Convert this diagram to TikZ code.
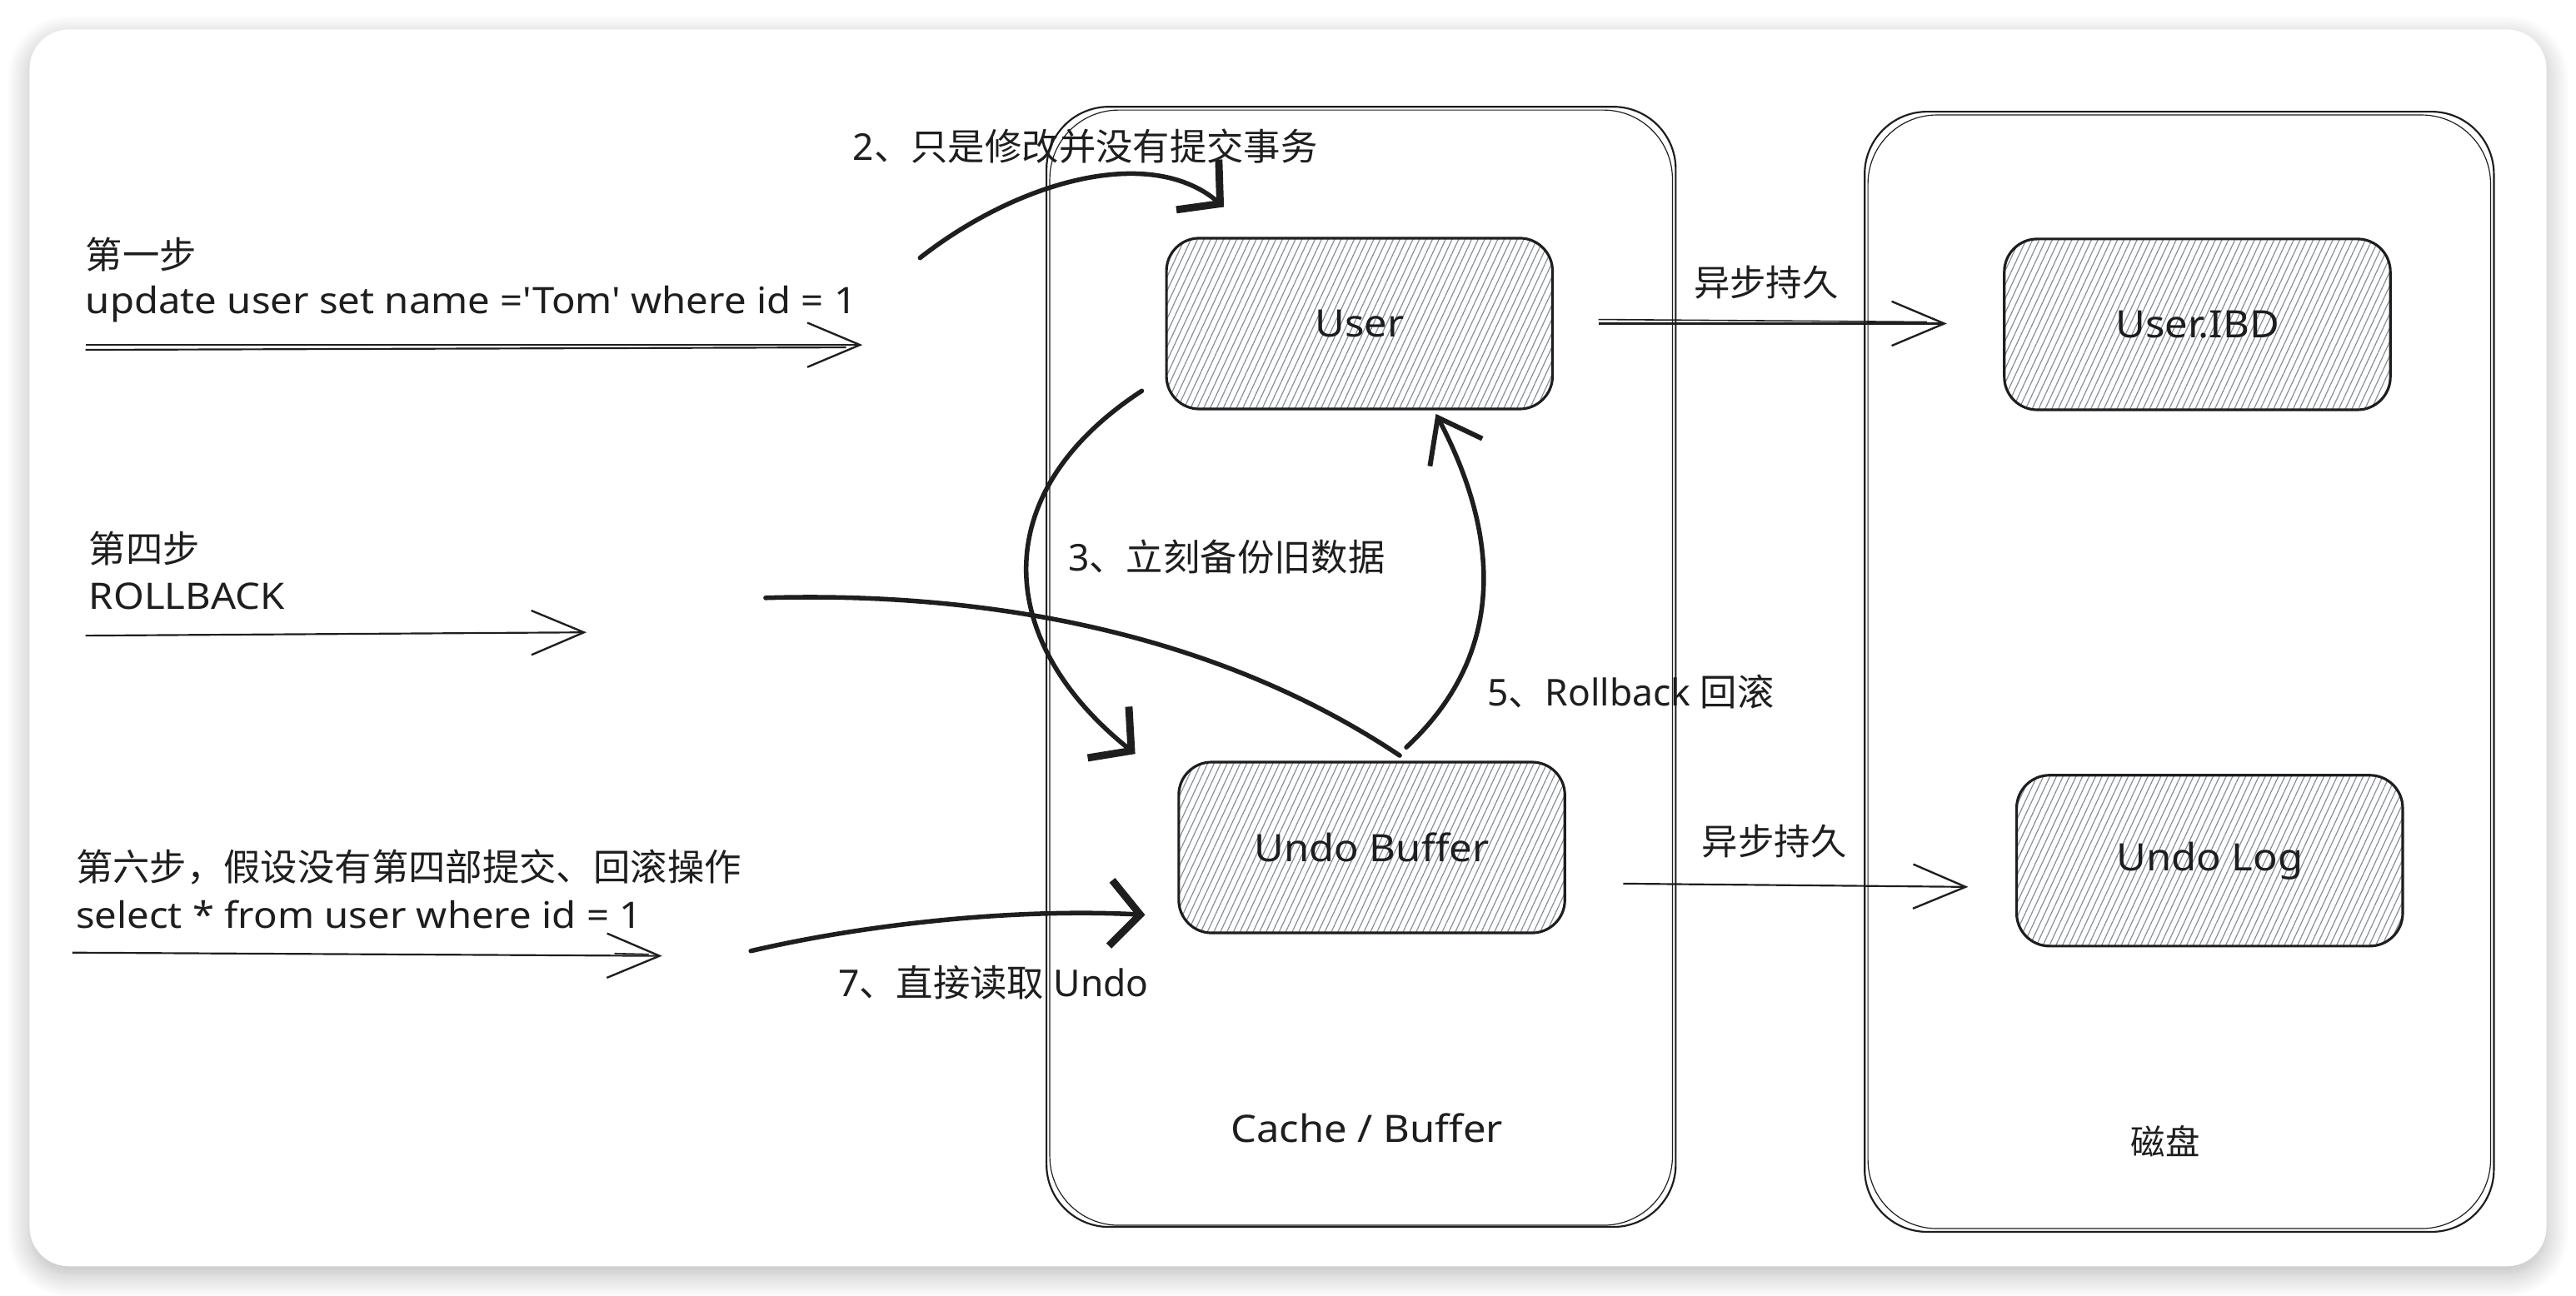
\documentclass[tikz,border=0pt]{standalone}
\usepackage{fontspec}
\setmainfont{Noto Sans}
\newfontfamily\cjk{Noto Sans CJK SC}
\newfontfamily\codefont[Ligatures=TeXOff,FakeStretch=1.08]{Noto Sans}
\usetikzlibrary{arrows.meta,patterns.meta,shadows.blur,calc}
\definecolor{ink}{HTML}{1E1E1E}
\definecolor{hatch}{HTML}{868E96}
\begin{document}
\begin{tikzpicture}[x=1pt,y=-1pt,
  card/.style={fill=white, rounded corners=24pt, minimum width=1532pt, minimum height=753pt,
    blur shadow={shadow xshift=0pt, shadow yshift=-5pt, shadow blur radius=14pt, shadow opacity=28, shadow blur steps=12}},
  container/.style={draw=ink, line width=1.1pt, rounded corners=38pt, minimum width=383pt, minimum height=682pt, inner sep=0pt},
  box/.style={draw=ink, line width=1.6pt, rounded corners=20pt, minimum width=235pt, minimum height=104pt,
    pattern={Lines[angle=65,distance=3.6pt,line width=0.6pt]}, pattern color=hatch,
    text=ink, font=\codefont\fontsize{23}{26}\selectfont},
  txt/.style={anchor=west, inner sep=0pt, text=ink, font=\fontsize{22.5}{26}\selectfont},
  code/.style={anchor=west, inner sep=0pt, text=ink, font=\codefont\fontsize{22.2}{26}\selectfont},
  ctxt/.style={inner sep=0pt, text=ink, font=\fontsize{21}{24}\selectfont},
  barb/.style={-{Straight Barb[length=32pt,width=27pt,line width=1.2pt]}},
  bigbarb/.style={-{Straight Barb[length=18pt,width=40pt,line width=4.5pt]}},
  midbarb/.style={-{Straight Barb[length=24pt,width=36pt,line width=3pt]}},
  wire/.style={draw=ink, line width=1.1pt},
  thickwire/.style={draw=ink, line width=2.8pt, line cap=round}
]
\useasboundingbox (0,0) rectangle (1568,789);
\node[card] (card) at (784,394.5) {};

% containers
\node[container] (cache) at (828.5,406) {};
\draw[ink, line width=0.6pt, rounded corners=42pt] (639,67) rectangle (1018,746);
\node[container] (disk) at (1326.5,409) {};
\draw[ink, line width=0.6pt, rounded corners=42pt] (1137,70) rectangle (1516,748);
\node[ctxt, font=\codefont\fontsize{23}{26}\selectfont] (cachelbl) at (832,687) {Cache / Buffer};
\node[ctxt] (disklbl) at (1318,695) {\cjk 磁盘};

% boxes
\node[box] (user) at (827.5,197) {User};
\node[box] (ibd) at (1337.5,197.5) {User.IBD};
\node[box] (undobuf) at (835,516) {Undo Buffer};
\node[box] (undolog) at (1345,524) {Undo Log};

% left texts
\node[txt] (s1a) at (52,155) {\cjk 第一步};
\node[code] (s1b) at (52,185) {update user set name ='Tom' where id = 1};
\node[txt] (s4a) at (54,334) {\cjk 第四步};
\node[code] (s4b) at (54,363) {ROLLBACK};
\node[txt] (s6a) at (46,528) {\cjk 第六步，假设没有第四部提交、回滚操作};
\node[code] (s6b) at (46,557) {select * from user where id = 1};

% labels
\node[txt] (l2) at (519,89) {2{\cjk 、只是修改并没有提交事务}};
\node[txt] (l3) at (650,339) {3{\cjk 、立刻备份旧数据}};
\node[txt] (l5) at (905,421) {5{\cjk 、}Rollback {\cjk 回滚}};
\node[txt] (l7) at (510,598) {7{\cjk 、直接读取} Undo};
\node[ctxt, font=\fontsize{22}{25}\selectfont] (as1) at (1075,172) {\cjk 异步持久};
\node[ctxt, font=\fontsize{22}{25}\selectfont] (as2) at (1080,512) {\cjk 异步持久};

% straight double arrows
\coordinate (a1s) at (52,210); \coordinate (a1e) at (525,210);
\draw[wire, barb] (a1s) -- (a1e);
\draw[wire] ($(a1s)+(0,3)$) -- ($(a1e)+(-10,1.5)$);
\coordinate (a4s) at (52,387); \coordinate (a4e) at (357,385);
\draw[wire, barb] (a4s) -- (a4e);
\coordinate (a6s) at (44,580); \coordinate (a6e) at (403,582);
\draw[wire, barb] (a6s) -- (a6e);
\draw[wire, line width=0.8pt] ($(a6s)+(330,0.5)$) -- ($(a6e)+(-8,-1)$);
\coordinate (p1s) at (973,197); \coordinate (p1e) at (1185,197);
\draw[wire, barb] (p1s) -- (p1e);
\draw[wire, line width=0.8pt] ($(p1s)+(0,-2.5)$) -- ($(p1e)+(-12,-1)$);
\coordinate (p2s) at (988,538); \coordinate (p2e) at (1198,540);
\draw[wire, barb] (p2s) -- (p2e);

% curved arrows
\coordinate (c2s) at (560,157); \coordinate (c2e) at (745,126);
\draw[thickwire, bigbarb] (c2s) .. controls (620,110) and (700,88) .. (c2e);
\coordinate (c3s) at (695,238); \coordinate (c3e) at (691,459);
\draw[thickwire, bigbarb] (c3s) .. controls (600,300) and (605,390) .. (c3e);
\coordinate (c5s) at (856,455); \coordinate (c5e) at (874,252);
\draw[thickwire, midbarb] (c5s) .. controls (915,400) and (915,330) .. (c5e);
\coordinate (rbs) at (466,364); \coordinate (rbe) at (852,460);
\draw[thickwire] (rbs) .. controls (600,360) and (740,385) .. (rbe);
\coordinate (c7s) at (457,579); \coordinate (c7e) at (697,557);
\draw[thickwire, bigbarb] (c7s) .. controls (530,562) and (620,553) .. (c7e);
\end{tikzpicture}
\end{document}
